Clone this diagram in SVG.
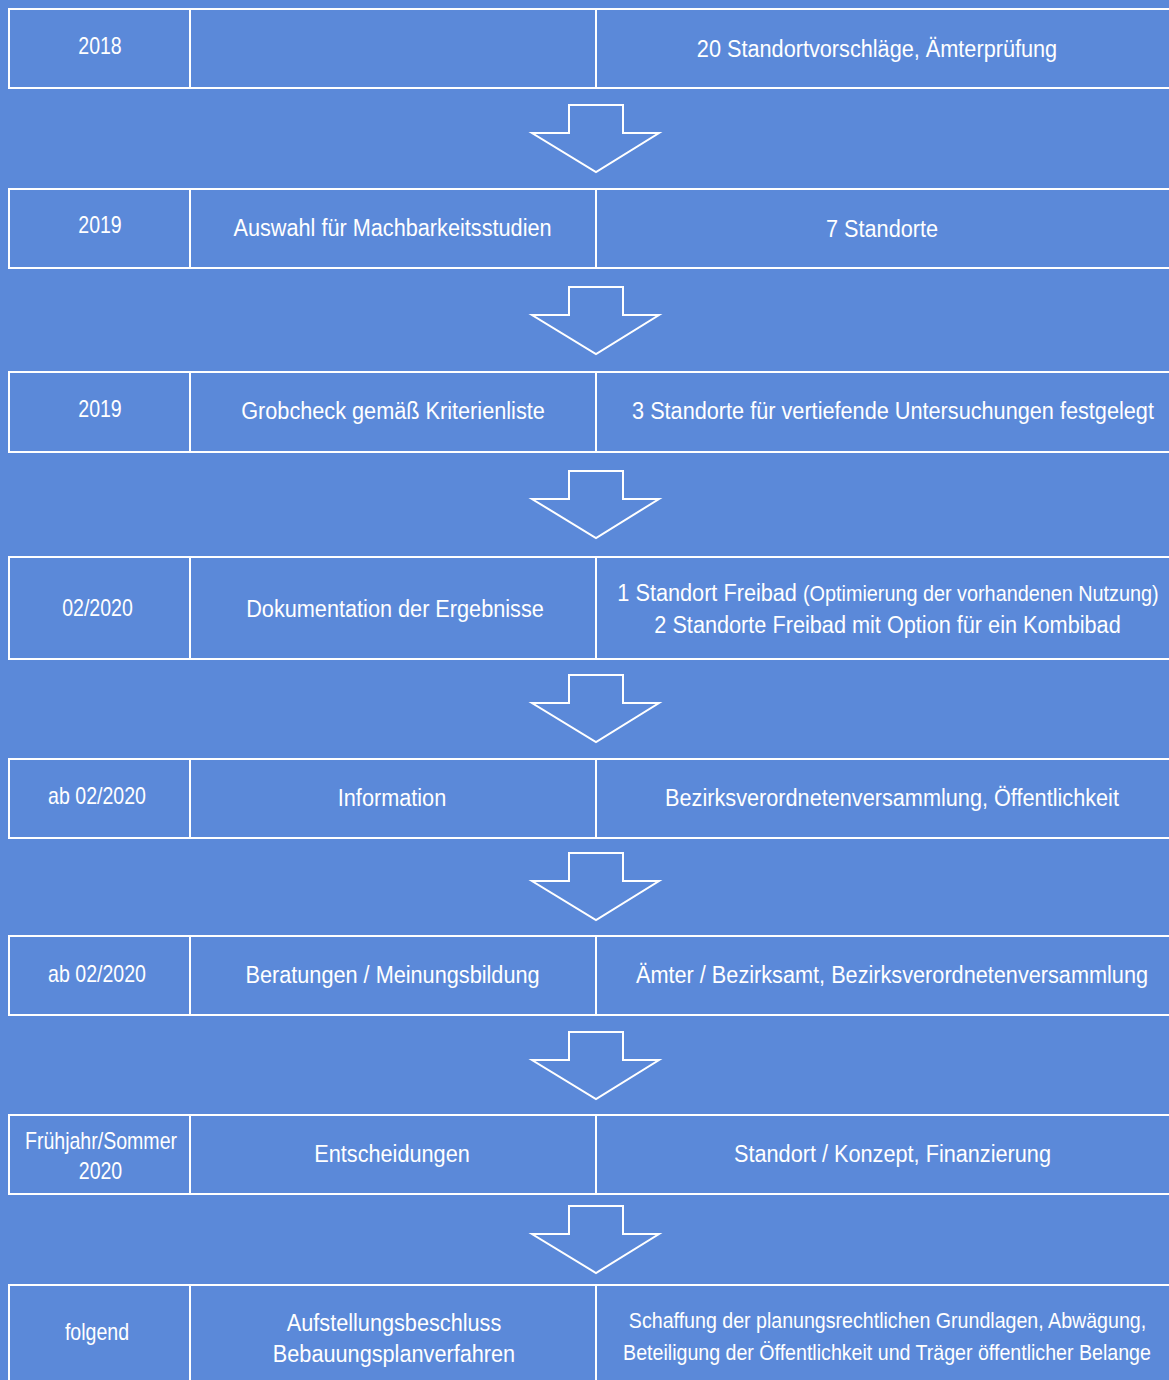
<svg xmlns="http://www.w3.org/2000/svg" width="1169" height="1380" viewBox="0 0 1169 1380">
<style>
.bg{fill:#5b89d9}
.cell{fill:none;stroke:#ffffff;stroke-width:2}
.arrow{fill:none;stroke:#ffffff;stroke-width:2;stroke-linejoin:miter}
text{font-family:"Liberation Sans",Arial,sans-serif;fill:#ffffff;text-anchor:middle}
.l{font-size:24px}
.m{font-size:24.3px}
.s{font-size:21.8px}
.p{font-size:22.2px}
</style>
<defs>
<path id="arr" d="M569,0 L623,0 L623,28 L659,28 L596,67 L532,28 L569,28 Z"/>
</defs>
<rect class="bg" x="0" y="0" width="1169" height="1380"/>

<g id="row1">
<rect class="cell" x="9" y="9" width="1165" height="79"/>
<line class="cell" x1="190" y1="9" x2="190" y2="88"/>
<line class="cell" x1="596" y1="9" x2="596" y2="88"/>
<text class="l" transform="translate(100,54) scale(0.815,1)">2018</text>
<text class="m" transform="translate(877,57) scale(0.893,1)">20 Standortvorschläge, Ämterprüfung</text>
</g>

<g id="row2">
<rect class="cell" x="9" y="189" width="1165" height="79"/>
<line class="cell" x1="190" y1="189" x2="190" y2="268"/>
<line class="cell" x1="596" y1="189" x2="596" y2="268"/>
<text class="l" transform="translate(100,233) scale(0.815,1)">2019</text>
<text class="m" transform="translate(392.5,236) scale(0.893,1)">Auswahl für Machbarkeitsstudien</text>
<text class="m" transform="translate(882,237) scale(0.893,1)">7 Standorte</text>
</g>

<g id="row3">
<rect class="cell" x="9" y="372" width="1165" height="80"/>
<line class="cell" x1="190" y1="372" x2="190" y2="452"/>
<line class="cell" x1="596" y1="372" x2="596" y2="452"/>
<text class="l" transform="translate(100,417) scale(0.815,1)">2019</text>
<text class="m" transform="translate(393,419) scale(0.893,1)">Grobcheck gemäß Kriterienliste</text>
<text class="m" transform="translate(893,418.5) scale(0.893,1)">3 Standorte für vertiefende Untersuchungen festgelegt</text>
</g>

<g id="row4">
<rect class="cell" x="9" y="557" width="1165" height="102"/>
<line class="cell" x1="190" y1="557" x2="190" y2="659"/>
<line class="cell" x1="596" y1="557" x2="596" y2="659"/>
<text class="l" transform="translate(97.5,616) scale(0.815,1)">02/2020</text>
<text class="m" transform="translate(395,617) scale(0.893,1)">Dokumentation der Ergebnisse</text>
<text class="m" transform="translate(888,600.7) scale(0.893,1)">1 Standort Freibad <tspan class="p">(Optimierung der vorhandenen Nutzung)</tspan></text>
<text class="m" transform="translate(887.5,633.3) scale(0.893,1)">2 Standorte Freibad mit Option für ein Kombibad</text>
</g>

<g id="row5">
<rect class="cell" x="9" y="759" width="1165" height="79"/>
<line class="cell" x1="190" y1="759" x2="190" y2="838"/>
<line class="cell" x1="596" y1="759" x2="596" y2="838"/>
<text class="l" transform="translate(97,804) scale(0.815,1)">ab 02/2020</text>
<text class="m" transform="translate(392,806) scale(0.893,1)">Information</text>
<text class="m" transform="translate(892,806) scale(0.893,1)">Bezirksverordnetenversammlung, Öffentlichkeit</text>
</g>

<g id="row6">
<rect class="cell" x="9" y="936" width="1165" height="79"/>
<line class="cell" x1="190" y1="936" x2="190" y2="1015"/>
<line class="cell" x1="596" y1="936" x2="596" y2="1015"/>
<text class="l" transform="translate(97,982) scale(0.815,1)">ab 02/2020</text>
<text class="m" transform="translate(392.5,983) scale(0.893,1)">Beratungen / Meinungsbildung</text>
<text class="m" transform="translate(892,983) scale(0.893,1)">Ämter / Bezirksamt, Bezirksverordnetenversammlung</text>
</g>

<g id="row7">
<rect class="cell" x="9" y="1115" width="1165" height="79"/>
<line class="cell" x1="190" y1="1115" x2="190" y2="1194"/>
<line class="cell" x1="596" y1="1115" x2="596" y2="1194"/>
<text class="l" transform="translate(101,1149) scale(0.815,1)">Frühjahr/Sommer</text>
<text class="l" transform="translate(100.5,1179) scale(0.815,1)">2020</text>
<text class="m" transform="translate(392,1162) scale(0.893,1)">Entscheidungen</text>
<text class="m" transform="translate(892.5,1162) scale(0.893,1)">Standort / Konzept, Finanzierung</text>
</g>

<g id="row8">
<rect class="cell" x="9" y="1285" width="1165" height="110"/>
<line class="cell" x1="190" y1="1285" x2="190" y2="1395"/>
<line class="cell" x1="596" y1="1285" x2="596" y2="1395"/>
<text class="l" transform="translate(97,1340) scale(0.815,1)">folgend</text>
<text class="m" transform="translate(394,1330.5) scale(0.893,1)">Aufstellungsbeschluss</text>
<text class="m" transform="translate(394,1362) scale(0.893,1)">Bebauungsplanverfahren</text>
<text class="s" transform="translate(887.5,1328.3) scale(0.9,1)">Schaffung der planungsrechtlichen Grundlagen, Abwägung,</text>
<text class="s" transform="translate(887,1360) scale(0.9,1)">Beteiligung der Öffentlichkeit und Träger öffentlicher Belange</text>
</g>

<g id="connectors">
<use href="#arr" class="arrow" transform="translate(0,105)"/>
<use href="#arr" class="arrow" transform="translate(0,287)"/>
<use href="#arr" class="arrow" transform="translate(0,471)"/>
<use href="#arr" class="arrow" transform="translate(0,675)"/>
<use href="#arr" class="arrow" transform="translate(0,853)"/>
<use href="#arr" class="arrow" transform="translate(0,1032)"/>
<use href="#arr" class="arrow" transform="translate(0,1206)"/>
</g>
</svg>
